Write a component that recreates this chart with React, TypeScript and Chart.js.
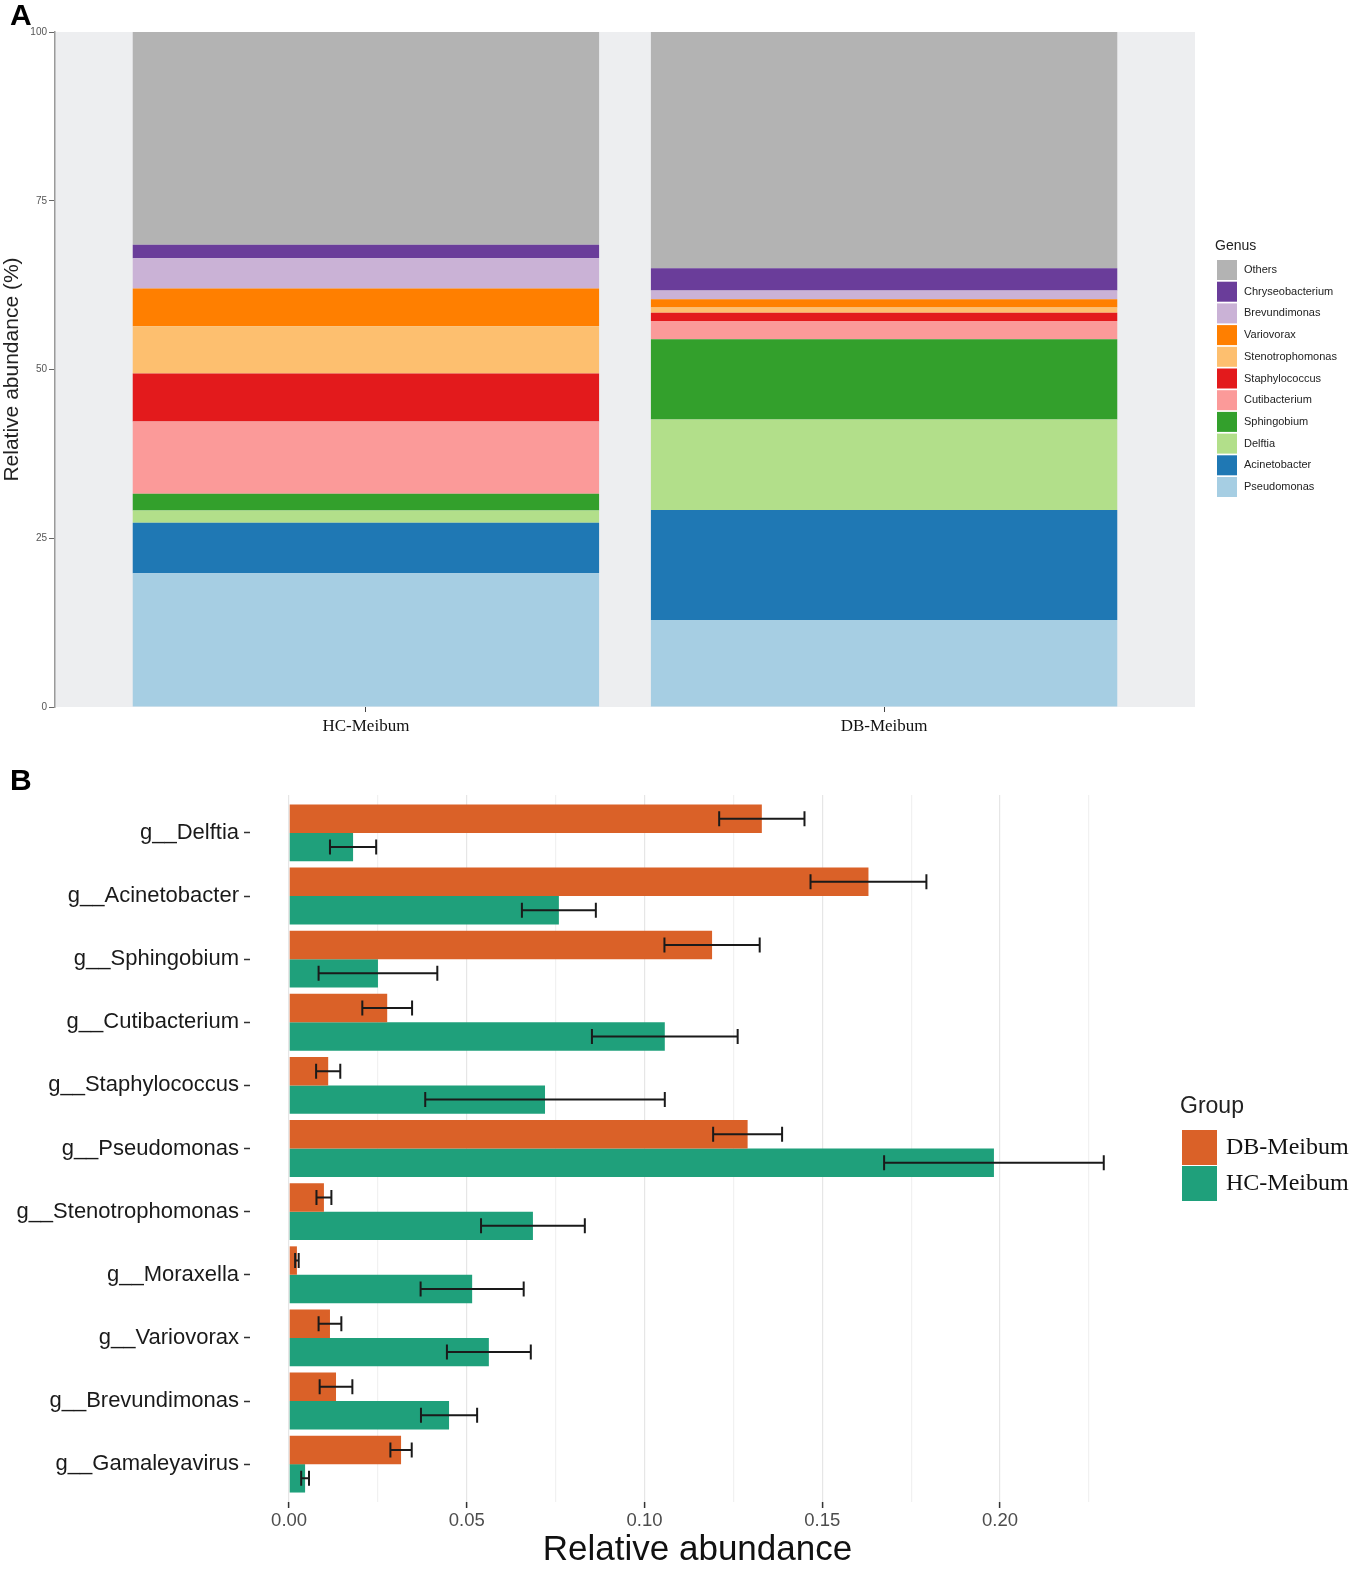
import React, { useEffect, useRef } from "react";
import { Chart, registerables } from "chart.js";
Chart.register(...registerables);

// ---------- Panel A data ----------
const sampleGroups = ["HC-Meibum", "DB-Meibum"];
const genera = [
  "Pseudomonas", "Acinetobacter", "Delftia", "Sphingobium", "Cutibacterium",
  "Staphylococcus", "Stenotrophomonas", "Variovorax", "Brevundimonas",
  "Chryseobacterium", "Others",
];
const hcAbundance = [19.8, 7.5, 1.8, 2.5, 10.7, 7.1, 7.0, 5.6, 4.5, 2.0, 31.5];
const dbAbundance = [12.9, 16.3, 13.4, 11.9, 2.7, 1.2, 0.8, 1.2, 1.3, 3.3, 35.0];
const genusColors = [
  "#A6CEE3", "#1F78B4", "#B2DF8A", "#33A02C", "#FB9A99", "#E31A1C",
  "#FDBF6F", "#FF7F00", "#CAB2D6", "#6A3D9A", "#B3B3B3",
];
const percentTicks = [0, 25, 50, 75, 100];

// ---------- Panel B data ----------
const genusLabels = [
  "g__Delftia", "g__Acinetobacter", "g__Sphingobium", "g__Cutibacterium",
  "g__Staphylococcus", "g__Pseudomonas", "g__Stenotrophomonas", "g__Moraxella",
  "g__Variovorax", "g__Brevundimonas", "g__Gamaleyavirus",
];
const groupNames = ["DB-Meibum", "HC-Meibum"];
const groupColors = ["#DA6128", "#1FA07B"];
const dbMean = [0.133, 0.163, 0.119, 0.0276, 0.011, 0.129, 0.0098, 0.0022, 0.0115, 0.0132, 0.0315];
const dbErr = [0.012, 0.0163, 0.0134, 0.007, 0.0034, 0.0097, 0.0021, 0.0005, 0.0032, 0.0046, 0.003];
const hcMean = [0.018, 0.0759, 0.025, 0.1057, 0.072, 0.1983, 0.0686, 0.0515, 0.0562, 0.045, 0.0045];
const hcErr = [0.0065, 0.0104, 0.0167, 0.0205, 0.0337, 0.0309, 0.0146, 0.0145, 0.0118, 0.0079, 0.0011];
const abundanceTicks = [0, 0.025, 0.05, 0.075, 0.1, 0.125, 0.15, 0.175, 0.2, 0.225];
const majorTickLabels = ["0.00", "0.05", "0.10", "0.15", "0.20"];

const SANS = "'Liberation Sans', Arial, sans-serif";
const SERIF = "'Liberation Serif', 'Times New Roman', serif";

const panelBgPlugin = {
  id: "panelBg",
  beforeDraw(chart: any) {
    const { ctx, chartArea } = chart;
    ctx.save();
    ctx.fillStyle = "#EDEEF0";
    ctx.fillRect(chartArea.left, chartArea.top, chartArea.right - chartArea.left, chartArea.bottom - chartArea.top);
    ctx.restore();
  },
};

const legendAPlugin = {
  id: "legendA",
  afterDraw(chart: any) {
    const { ctx } = chart;
    ctx.save();
    ctx.fillStyle = "#222";
    ctx.font = `14px ${SANS}`;
    ctx.textBaseline = "middle";
    ctx.textAlign = "left";
    ctx.fillText("Genus", 1215, 246);
    const n = genera.length;
    for (let k = 0; k < n; k++) {
      const i = n - 1 - k;
      const cy = 270 + k * 21.7;
      ctx.fillStyle = genusColors[i];
      ctx.fillRect(1217, cy - 10, 20, 20);
      ctx.fillStyle = "#222";
      ctx.font = `11px ${SANS}`;
      ctx.fillText(genera[i], 1244, cy);
    }
    ctx.restore();
  },
};

const errorBarPlugin = {
  id: "errorBars",
  afterDatasetsDraw(chart: any) {
    const { ctx } = chart;
    const xs = chart.scales.x;
    const means = [dbMean, hcMean];
    const errs = [dbErr, hcErr];
    ctx.save();
    ctx.strokeStyle = "#1a1a1a";
    ctx.lineWidth = 2;
    chart.data.datasets.forEach((_: any, di: number) => {
      const meta = chart.getDatasetMeta(di);
      meta.data.forEach((bar: any, j: number) => {
        const y = bar.y;
        const x1 = xs.getPixelForValue(means[di][j] - errs[di][j]);
        const x2 = xs.getPixelForValue(means[di][j] + errs[di][j]);
        ctx.beginPath();
        ctx.moveTo(x1, y);
        ctx.lineTo(x2, y);
        ctx.moveTo(x1, y - 7.5);
        ctx.lineTo(x1, y + 7.5);
        ctx.moveTo(x2, y - 7.5);
        ctx.lineTo(x2, y + 7.5);
        ctx.stroke();
      });
    });
    ctx.restore();
  },
};

const legendBPlugin = {
  id: "legendB",
  afterDraw(chart: any) {
    const { ctx } = chart;
    ctx.save();
    ctx.textBaseline = "middle";
    ctx.textAlign = "left";
    ctx.fillStyle = "#222";
    ctx.font = `23px ${SANS}`;
    ctx.fillText("Group", 1180, 357);
    groupNames.forEach((g, i) => {
      const top = 380 + i * 36;
      ctx.fillStyle = groupColors[i];
      ctx.fillRect(1182, top, 35, 35);
      ctx.fillStyle = "#111";
      ctx.font = `24px ${SERIF}`;
      ctx.fillText(g, 1226, top + 18);
    });
    ctx.restore();
  },
};

export default function App() {
  const refA = useRef<HTMLCanvasElement>(null);
  const refB = useRef<HTMLCanvasElement>(null);

  useEffect(() => {
    const chartA = new Chart(refA.current as HTMLCanvasElement, {
      type: "bar",
      data: {
        datasets: genera.map((g, i) => ({
          label: g,
          data: sampleGroups.map((_, j) => ({ x: j + 1, y: (j === 0 ? hcAbundance : dbAbundance)[i] })),
          backgroundColor: genusColors[i],
          borderWidth: 0,
          barPercentage: 1,
          categoryPercentage: 0.9,
        })),
      },
      options: {
        animation: false,
        responsive: false,
        layout: { padding: { left: 0, right: 164, top: 32, bottom: 0 } },
        plugins: { legend: { display: false }, tooltip: { enabled: false } },
        scales: {
          x: {
            type: "linear",
            stacked: true,
            min: 0.4,
            max: 2.6,
            offset: false,
            afterBuildTicks: (s: any) => {
              s.ticks = sampleGroups.map((_, j) => ({ value: j + 1 }));
            },
            afterFit: (s: any) => {
              s.height = 43;
            },
            grid: { drawOnChartArea: false, offset: false, tickLength: 5, tickColor: "#444", tickWidth: 1 },
            border: { display: false },
            ticks: {
              callback: (v: any) => sampleGroups[Math.round(v) - 1] ?? "",
              font: { family: SERIF, size: 17 },
              color: "#111",
              padding: 4,
              maxRotation: 0,
              autoSkip: false,
            },
          },
          y: {
            type: "linear",
            stacked: true,
            min: 0,
            max: 100,
            afterBuildTicks: (s: any) => {
              s.ticks = percentTicks.map((v) => ({ value: v }));
            },
            afterFit: (s: any) => {
              s.width = 55;
            },
            grid: { drawOnChartArea: false, tickLength: 6, tickColor: "#666", tickWidth: 1 },
            border: { display: true, color: "#9a9a9a", width: 1.5 },
            ticks: { font: { family: SANS, size: 10 }, color: "#555", padding: 2 },
            title: {
              display: true,
              text: "Relative abundance (%)",
              font: { family: SANS, size: 21 },
              color: "#222",
              padding: { top: 0, bottom: 0 },
            },
          },
        },
      } as any,
      plugins: [panelBgPlugin, legendAPlugin],
    });

    const chartB = new Chart(refB.current as HTMLCanvasElement, {
      type: "bar",
      data: {
        datasets: [
          {
            label: groupNames[0],
            data: dbMean.map((v, i) => ({ x: v, y: i })),
            backgroundColor: groupColors[0],
            borderWidth: 0,
            barPercentage: 1,
            categoryPercentage: 0.9,
          },
          {
            label: groupNames[1],
            data: hcMean.map((v, i) => ({ x: v, y: i })),
            backgroundColor: groupColors[1],
            borderWidth: 0,
            barPercentage: 1,
            categoryPercentage: 0.9,
          },
        ],
      },
      options: {
        indexAxis: "y",
        animation: false,
        responsive: false,
        layout: { padding: { left: 0, right: 214, top: 45, bottom: 0 } },
        plugins: { legend: { display: false }, tooltip: { enabled: false } },
        scales: {
          y: {
            type: "linear",
            min: -0.6,
            max: 10.6,
            reverse: true,
            offset: false,
            afterBuildTicks: (s: any) => {
              s.ticks = genusLabels.map((_, i) => ({ value: i }));
            },
            afterFit: (s: any) => {
              s.width = 250;
            },
            grid: { drawOnChartArea: false, offset: false, tickLength: 6, tickColor: "#333", tickWidth: 1.5 },
            border: { display: false },
            ticks: {
              callback: (v: any) => genusLabels[Math.round(v)] ?? "",
              font: { family: SANS, size: 22 },
              color: "#1a1a1a",
              padding: 5,
              autoSkip: false,
            },
          },
          x: {
            type: "linear",
            min: -0.011,
            max: 0.2408,
            afterBuildTicks: (s: any) => {
              s.ticks = abundanceTicks.map((v) => ({ value: v }));
            },
            afterFit: (s: any) => {
              s.height = 75;
            },
            grid: {
              color: (c: any) => (Math.round((c.tick?.value ?? 0) / 0.025) % 2 === 0 ? "#E6E6E6" : "#F1F1F1"),
              tickColor: (c: any) => (Math.round((c.tick?.value ?? 0) / 0.025) % 2 === 0 ? "#333" : "rgba(0,0,0,0)"),
              tickLength: 6,
              lineWidth: 1.2,
              tickWidth: 1.5,
            },
            border: { display: false },
            ticks: {
              callback: (v: any) => {
                const k = Math.round(v / 0.025);
                return k % 2 === 0 ? majorTickLabels[k / 2] ?? "" : "";
              },
              font: { family: SANS, size: 18.5 },
              color: "#4D4D4D",
              padding: 2,
              autoSkip: false,
              maxRotation: 0,
            },
            title: {
              display: true,
              text: "Relative abundance",
              font: { family: SANS, size: 35 },
              color: "#111",
              padding: { top: 0, bottom: 6 },
            },
          },
        },
      } as any,
      plugins: [errorBarPlugin, legendBPlugin],
    });

    return () => {
      chartA.destroy();
      chartB.destroy();
    };
  }, []);

  return (
    <div style={{ position: "absolute", left: 0, top: 0, width: 1359, height: 1577, background: "#fff", overflow: "hidden" }}>
      <canvas ref={refA} width={1359} height={750} style={{ position: "absolute", left: 0, top: 0, width: 1359, height: 750 }} />
      <canvas ref={refB} width={1359} height={827} style={{ position: "absolute", left: 0, top: 750, width: 1359, height: 827 }} />
      <div style={{ position: "absolute", left: 10, top: 0, font: `bold 30px ${SANS}`, lineHeight: "30px", color: "#000" }}>A</div>
      <div style={{ position: "absolute", left: 10, top: 765, font: `bold 30px ${SANS}`, lineHeight: "30px", color: "#000" }}>B</div>
    </div>
  );
}
